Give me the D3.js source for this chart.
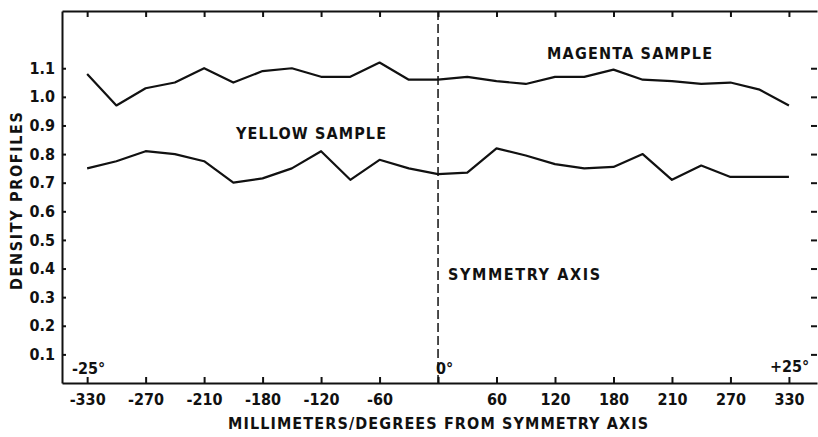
<!DOCTYPE html>
<html>
<head>
<meta charset="utf-8">
<script src="https://cdn.jsdelivr.net/npm/d3@7"></script>
<style>
  body { margin: 0; background: #fff; }
  svg text { font-family: "DejaVu Sans Condensed", "DejaVu Sans", sans-serif; font-weight: bold; font-stretch: condensed; fill: #111; }
</style>
</head>
<body>
<svg id="chart" width="818" height="437"></svg>
<script>
// x positions are in tick units (one unit = one labelled tick), 0 = symmetry axis
var positions = [-6, -5.5, -5, -4.5, -4, -3.5, -3, -2.5, -2, -1.5, -1, -0.5, 0,
                 0.5, 1, 1.5, 2, 2.5, 3, 3.5, 4, 4.5, 5, 5.5, 6];
var magenta = [1.08, 0.97, 1.03, 1.05, 1.10, 1.05, 1.09, 1.10, 1.07, 1.07, 1.12, 1.06, 1.06,
               1.07, 1.055, 1.045, 1.07, 1.07, 1.095, 1.06, 1.055, 1.045, 1.05, 1.025, 0.97];
var yellow = [0.75, 0.775, 0.81, 0.80, 0.775, 0.70, 0.715, 0.75, 0.81, 0.71, 0.78, 0.75, 0.73,
              0.735, 0.82, 0.795, 0.765, 0.75, 0.755, 0.80, 0.71, 0.76, 0.72, 0.72, 0.72];
var xTicks = [-6, -5, -4, -3, -2, -1, 0, 1, 2, 3, 4, 5, 6];
var xTickLabels = ["-330", "-270", "-210", "-180", "-120", "-60", "", "60", "120", "180", "210", "270", "330"];
var yTicks = [0.1, 0.2, 0.3, 0.4, 0.5, 0.6, 0.7, 0.8, 0.9, 1.0, 1.1];

var svg = d3.select("svg#chart"),
    margin = {left: 62, right: 1, top: 11, bottom: 54},
    width = +svg.attr("width"),
    height = +svg.attr("height");

var x = d3.scaleLinear().domain([-6.43, 6.48]).range([margin.left, width - margin.right]);
var y = d3.scaleLinear().domain([0, 1.3]).range([height - margin.bottom, margin.top]);

var x0 = x.range()[0], x1 = x.range()[1], y0 = y.range()[0], y1 = y.range()[1];

// axes: ticks drawn inward like the original plotter frame
var bottomAxis = d3.axisBottom(x).tickValues(xTicks)
    .tickFormat(function(d, i) { return xTickLabels[i]; })
    .tickSizeInner(-6).tickSizeOuter(0).tickPadding(14);
var topAxis = d3.axisTop(x).tickValues(xTicks).tickFormat("").tickSizeInner(-6).tickSizeOuter(0);
var leftAxis = d3.axisLeft(y).tickValues(yTicks).tickFormat(d3.format(".1f"))
    .tickSizeInner(-4).tickSizeOuter(0).tickPadding(7);
var rightAxis = d3.axisRight(y).tickValues(yTicks).tickFormat("").tickSizeInner(-6).tickSizeOuter(0);

function styleAxis(g) {
  g.select(".domain").attr("stroke", "#111").attr("stroke-width", 2);
  g.selectAll(".tick line").attr("stroke", "#111").attr("stroke-width", 2);
  g.selectAll(".tick text").style("font-size", "16px").attr("fill", "#111");
}

svg.append("g").attr("transform", "translate(0," + y0 + ")").call(bottomAxis).call(styleAxis)
   .selectAll(".tick text").attr("dy", "0.5em");
svg.append("g").attr("transform", "translate(0," + y1 + ")").call(topAxis).call(styleAxis);
svg.append("g").attr("transform", "translate(" + x0 + ",0)").call(leftAxis).call(styleAxis);
svg.append("g").attr("transform", "translate(" + x1 + ",0)").call(rightAxis).call(styleAxis)
   .select(".domain").attr("stroke", "none");

// symmetry axis
svg.append("line")
    .attr("x1", x(0)).attr("x2", x(0))
    .attr("y1", y1).attr("y2", y0)
    .attr("stroke", "#111").attr("stroke-width", 1.5)
    .attr("stroke-dasharray", "9,4");

// profiles
var line = d3.line()
    .x(function(d) { return x(d[0]); })
    .y(function(d) { return y(d[1]); });

[magenta, yellow].forEach(function(series) {
  svg.append("path")
      .datum(d3.zip(positions, series))
      .attr("fill", "none")
      .attr("stroke", "#111")
      .attr("stroke-width", 2.2)
      .attr("stroke-linejoin", "round")
      .attr("d", line);
});

// labels
function label(txt, px, py, len, size, anchor) {
  var t = svg.append("text")
      .attr("x", px).attr("y", py)
      .attr("dy", "0.36em")
      .attr("text-anchor", anchor || "start")
      .style("font-size", (size || 16) + "px")
      .text(txt);
  if (len) t.attr("textLength", len).attr("lengthAdjust", "spacing");
  return t;
}

label("MAGENTA SAMPLE", 547, 53, 165);
label("YELLOW SAMPLE", 236, 133, 150);
label("SYMMETRY AXIS", 448, 274, 152);
label("MILLIMETERS/DEGREES FROM SYMMETRY AXIS", 228, 423, 420);
label("-25°", 72, 368, null, 16);
label("0°", 436, 368, null, 16);
label("+25°", 770, 366, null, 16);

svg.append("text")
    .attr("transform", "translate(16,201) rotate(-90)")
    .attr("text-anchor", "middle")
    .attr("dy", "0.36em")
    .attr("textLength", 178).attr("lengthAdjust", "spacing")
    .style("font-size", "16px")
    .text("DENSITY PROFILES");
</script>
</body>
</html>
